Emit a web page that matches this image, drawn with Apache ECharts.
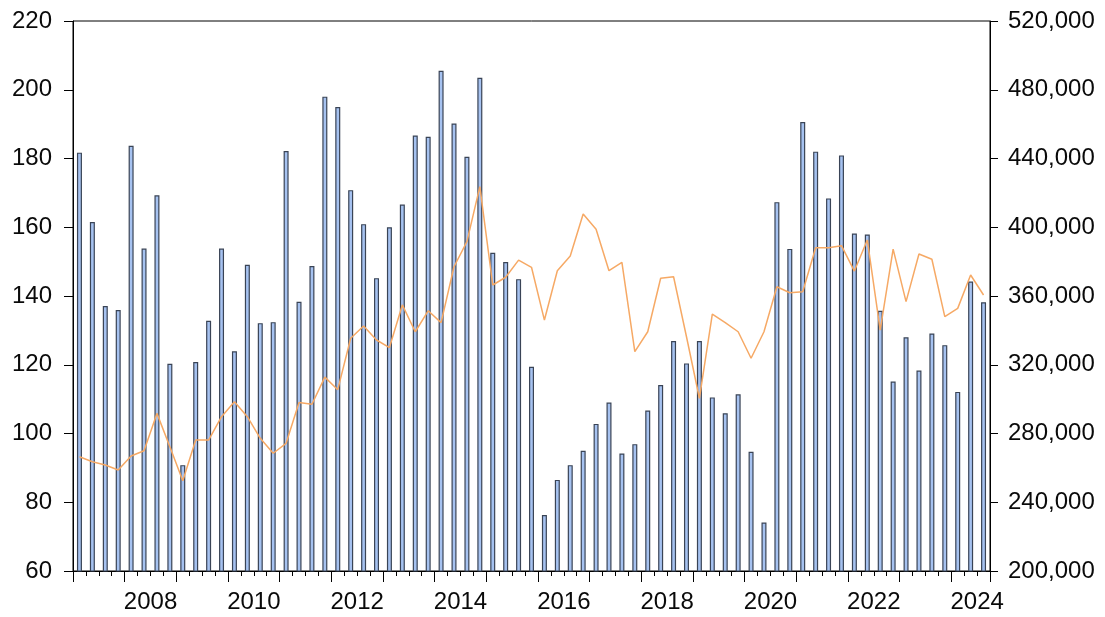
<!DOCTYPE html>
<html>
<head>
<meta charset="utf-8">
<title>Quarterly bars and line</title>
<script src="https://cdn.jsdelivr.net/npm/echarts@6/dist/echarts.min.js"></script>
<style>
  html, body { margin: 0; padding: 0; background: #fff; }
  #chart { width: 1105px; height: 617px; }
</style>
</head>
<body>
<div id="chart"></div>
<script>
// quarters 2007Q1 .. 2024Q3
var firstYear = 2007;
var quarterCount = 71;
var quarters = [];
for (var i = 0; i < quarterCount; i++) {
    quarters.push((firstYear + Math.floor(i / 4)) + 'Q' + (i % 4 + 1));
}

// left axis, bars
var barValues = [
    181.7, 161.5, 137.1, 135.9, 183.7, 153.8, 169.3, 120.3,
    90.8, 120.8, 132.8, 153.8, 123.9, 149.1, 132.1, 132.4,
    182.2, 138.3, 148.7, 198.0, 195.0, 170.8, 160.9, 145.2,
    160.0, 166.6, 186.7, 186.3, 205.5, 190.2, 180.5, 203.5,
    152.6, 149.9, 144.9, 119.4, 76.3, 86.5, 90.8, 95.0,
    102.8, 109.0, 94.2, 96.9, 106.7, 114.1, 126.9, 120.4,
    126.9, 110.5, 105.9, 111.4, 94.7, 74.1, 167.3, 153.7,
    190.6, 182.0, 168.4, 180.9, 158.2, 157.9, 135.7, 115.1,
    128.0, 118.3, 129.1, 125.7, 112.1, 144.2, 138.2
];

// right axis, line
var lineValues = [
    266500, 263600, 261700, 258800, 266900, 270000, 291700, 272300,
    252500, 276200, 276200, 289800, 298500, 289800, 277200, 268500,
    274300, 298000, 297000, 312800, 305500, 335400, 342500, 334400,
    330000, 354800, 339200, 351400, 344500, 377000, 391600, 423600,
    366400, 370900, 380900, 376700, 346000, 374700, 383300, 407700,
    398800, 374700, 379600, 327600, 339200, 370300, 371200, 336300,
    300500, 349400, 344500, 339200, 323800, 339200, 365400, 361900,
    362500, 388100, 388100, 389300, 374500, 392600, 340200, 387300,
    356700, 384400, 381400, 348000, 352800, 372200, 360600
];

var leftTicks = { min: 60, max: 220, step: 20 };
var rightTicks = { min: 200000, max: 520000, step: 40000 };

var font = 'Liberation Sans, Arial, sans-serif';
var textColor = '#0a0a0a';

var chart = echarts.init(document.getElementById('chart'));

var option = {
    animation: false,
    backgroundColor: '#fff',
    grid: {
        left: 73, right: 115, top: 21, bottom: 46,
        show: true, borderColor: '#000', borderWidth: 1
    },
    xAxis: [{
        type: 'category',
        data: quarters,
        boundaryGap: true,
        axisLine: { show: true, lineStyle: { color: '#000', width: 1 } },
        axisTick: { show: true, interval: 0, length: 5, lineStyle: { color: '#000' } },
        axisLabel: { show: false },
        splitLine: { show: false }
    }, {
        // yearly ticks and labels
        type: 'category',
        data: quarters,
        position: 'bottom',
        boundaryGap: true,
        axisLine: { show: false },
        axisTick: {
            show: true, length: 11, lineStyle: { color: '#000' },
            interval: function (idx) { return idx % 4 === 0; }
        },
        axisLabel: {
            show: true,
            margin: 19,
            interval: function (idx, val) {
                return idx % 4 === 1 && parseInt(val, 10) % 2 === 0;
            },
            formatter: function (val) { return '{a|' + val.slice(0, 4) + '}'; },
            rich: {
                a: { fontSize: 24, fontFamily: font, color: textColor, padding: [0, 0, 0, 13] }
            }
        },
        splitLine: { show: false }
    }],
    yAxis: [{
        type: 'value',
        position: 'left',
        min: leftTicks.min, max: leftTicks.max, interval: leftTicks.step,
        axisLine: { show: true, lineStyle: { color: '#000' } },
        axisTick: { show: true, length: 9, lineStyle: { color: '#000' } },
        axisLabel: { fontSize: 24, fontFamily: font, color: textColor, margin: 21 },
        splitLine: { show: false }
    }, {
        type: 'value',
        position: 'right',
        min: rightTicks.min, max: rightTicks.max, interval: rightTicks.step,
        axisLine: { show: true, lineStyle: { color: '#000' } },
        axisTick: { show: true, length: 8, lineStyle: { color: '#000' } },
        axisLabel: {
            fontSize: 24, fontFamily: font, color: textColor, margin: 18,
            formatter: function (v) { return v.toLocaleString('en-US'); }
        },
        splitLine: { show: false }
    }],
    series: [{
        type: 'bar',
        xAxisIndex: 0,
        yAxisIndex: 0,
        data: barValues,
        barWidth: 5,
        itemStyle: { color: '#a6c2f0', borderColor: '#3a4456', borderWidth: 1.2 }
    }, {
        type: 'line',
        xAxisIndex: 0,
        yAxisIndex: 1,
        data: lineValues,
        symbol: 'none',
        z: 5,
        lineStyle: { color: '#f6a965', width: 1.5 }
    }]
};

chart.setOption(option);
</script>
</body>
</html>
